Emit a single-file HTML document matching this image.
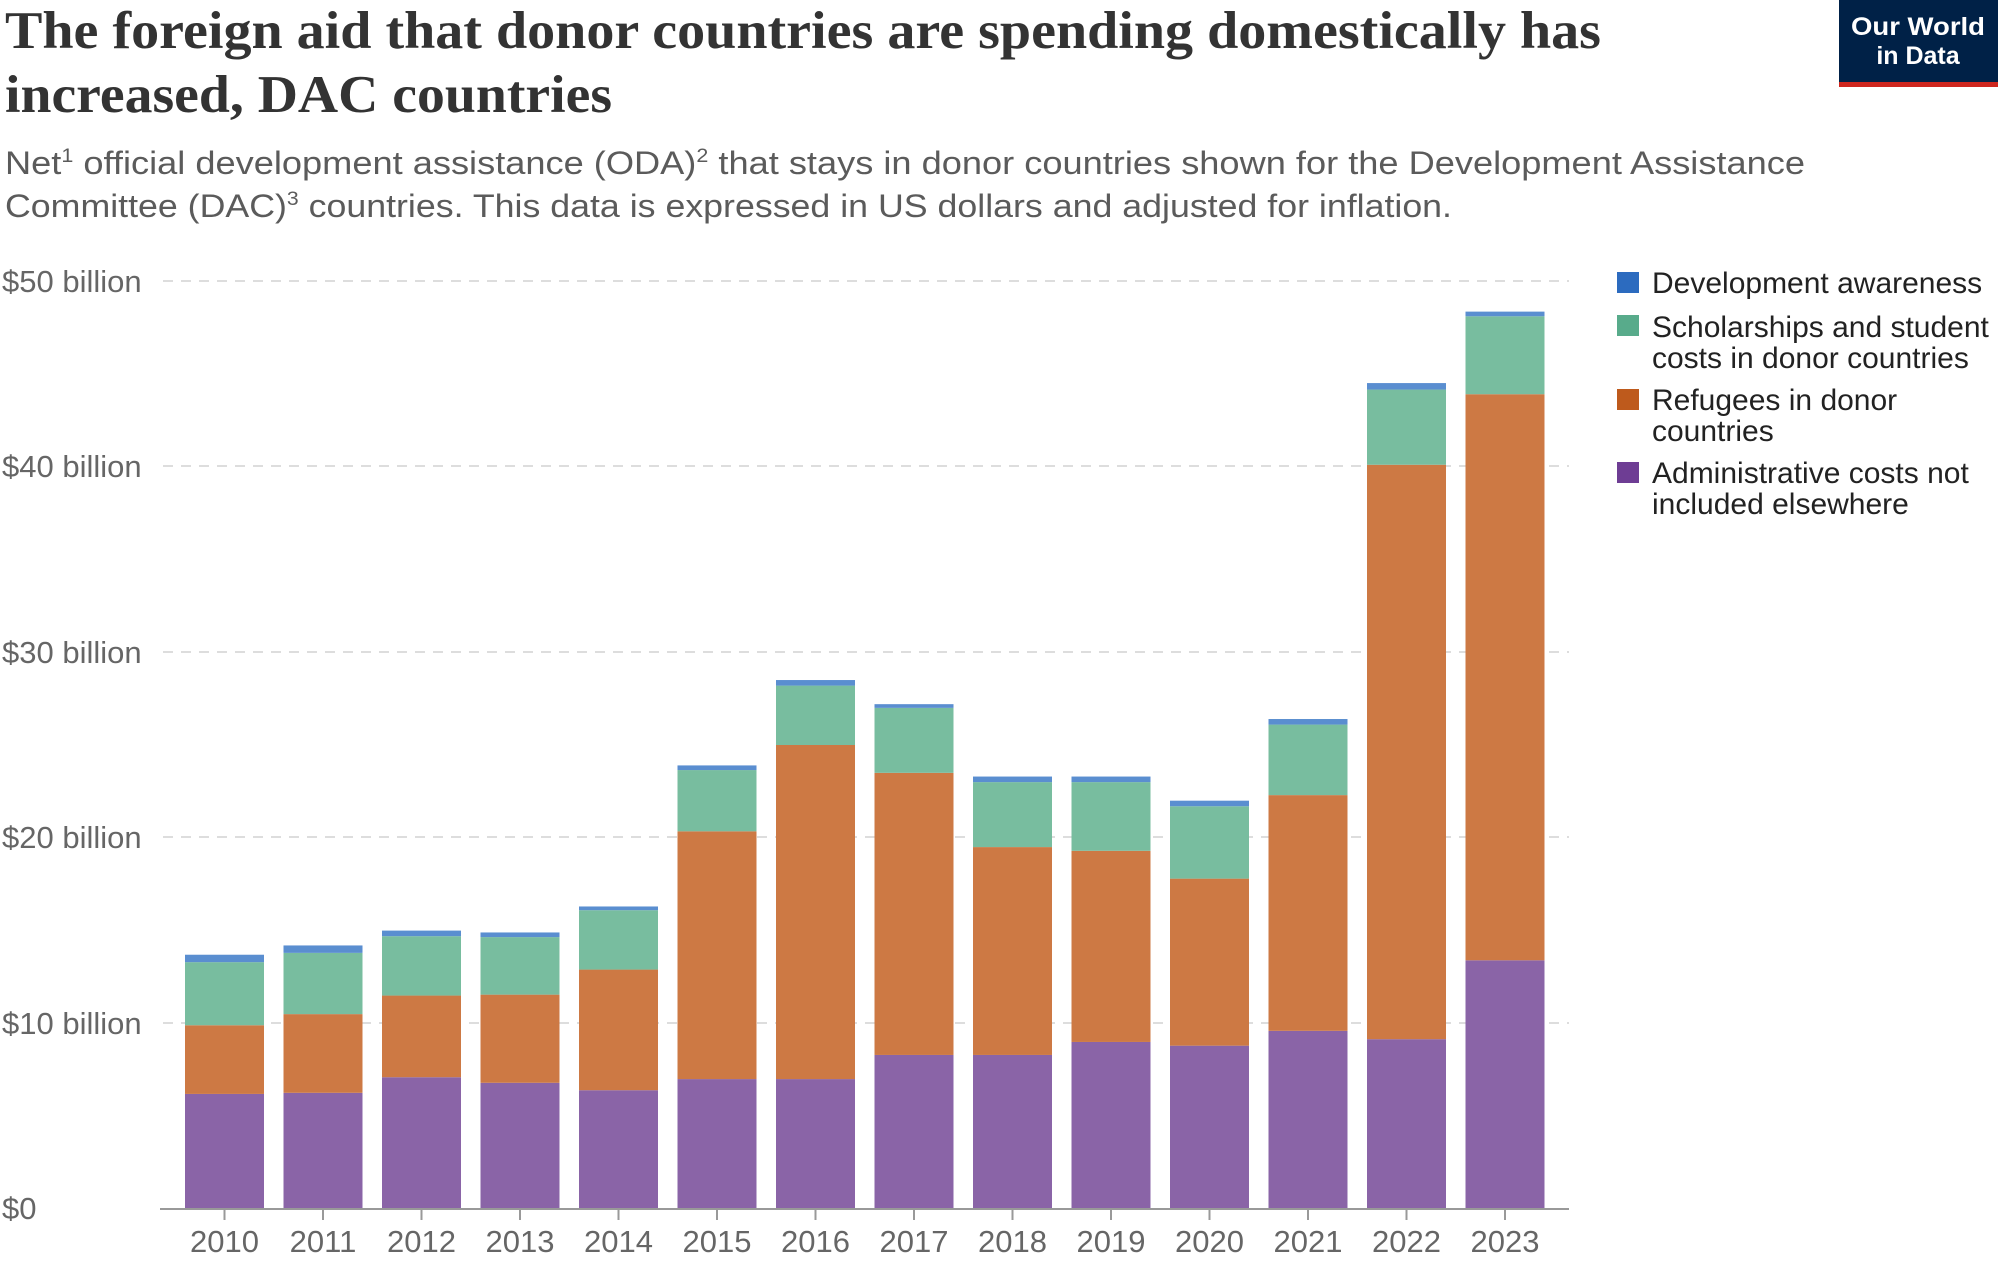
<!DOCTYPE html>
<html><head><meta charset="utf-8"><style>
html,body{margin:0;padding:0;background:#fff;}
svg{display:block;}
</style></head><body>
<svg width="2000" height="1263" viewBox="0 0 2000 1263" xmlns="http://www.w3.org/2000/svg">
<text x="5" y="48" font-family="Liberation Serif, serif" font-weight="bold" font-size="53" fill="#333" textLength="1596" lengthAdjust="spacingAndGlyphs">The foreign aid that donor countries are spending domestically has</text>
<text x="5" y="112" font-family="Liberation Serif, serif" font-weight="bold" font-size="53" fill="#333" textLength="607" lengthAdjust="spacingAndGlyphs">increased, DAC countries</text>
<text x="5" y="174" font-family="Liberation Sans, sans-serif" font-size="32" fill="#5b5b5b" textLength="1800" lengthAdjust="spacingAndGlyphs">Net<tspan font-size="19" dy="-12">1</tspan><tspan dy="12"> official development assistance (ODA)</tspan><tspan font-size="19" dy="-12">2</tspan><tspan dy="12"> that stays in donor countries shown for the Development Assistance</tspan></text>
<text x="5" y="217" font-family="Liberation Sans, sans-serif" font-size="32" fill="#5b5b5b" textLength="1447" lengthAdjust="spacingAndGlyphs">Committee (DAC)<tspan font-size="19" dy="-12">3</tspan><tspan dy="12"> countries. This data is expressed in US dollars and adjusted for inflation.</tspan></text>
<rect x="1839" y="0" width="159" height="82" fill="#002147"/>
<rect x="1839" y="82" width="159" height="5" fill="#ce261e"/>
<text x="1918" y="35" text-anchor="middle" font-family="Liberation Sans, sans-serif" font-weight="bold" font-size="25" fill="#fff" textLength="134" lengthAdjust="spacingAndGlyphs">Our World</text>
<text x="1918" y="64" text-anchor="middle" font-family="Liberation Sans, sans-serif" font-weight="bold" font-size="25" fill="#fff">in Data</text>
<g font-family="Liberation Sans, sans-serif" font-size="31" fill="#666">
<text x="2" y="292">$50 billion</text>
<text x="2" y="477">$40 billion</text>
<text x="2" y="663">$30 billion</text>
<text x="2" y="848">$20 billion</text>
<text x="2" y="1034">$10 billion</text>
<text x="2" y="1219">$0</text>
</g>
<g stroke="#ddd" stroke-width="2" stroke-dasharray="10,8">
<line x1="163" x2="1569" y1="281" y2="281"/>
<line x1="163" x2="1569" y1="466" y2="466"/>
<line x1="163" x2="1569" y1="652" y2="652"/>
<line x1="163" x2="1569" y1="837" y2="837"/>
<line x1="163" x2="1569" y1="1023" y2="1023"/>
</g>
<g id="bars"></g>
<line x1="160" x2="1569" y1="1209" y2="1209" stroke="#999" stroke-width="2"/>
<g id="ticks" stroke="#999" stroke-width="2"></g>
<g id="xl" font-family="Liberation Sans, sans-serif" font-size="31" fill="#666" text-anchor="middle"></g>
<g font-family="Liberation Sans, sans-serif" font-size="30" fill="#222">
<rect x="1617" y="272" width="22" height="21" fill="#2c6bbf"/>
<text x="1652" y="293">Development awareness</text>
<rect x="1617" y="315" width="22" height="21" fill="#58ab8b"/>
<text x="1652" y="337">Scholarships and student</text>
<text x="1652" y="368">costs in donor countries</text>
<rect x="1617" y="389" width="22" height="21" fill="#be5a1c"/>
<text x="1652" y="410">Refugees in donor</text>
<text x="1652" y="441">countries</text>
<rect x="1617" y="462" width="22" height="21" fill="#6e3d94"/>
<text x="1652" y="483">Administrative costs not</text>
<text x="1652" y="514">included elsewhere</text>
</g>
<script>
var d=[[6.2,9.9,13.3,13.7],[6.26,10.5,13.8,14.2],[7.1,11.5,14.7,15.0],[6.8,11.55,14.65,14.9],[6.4,12.9,16.1,16.3],[7.0,20.35,23.65,23.9],[7.0,25.0,28.2,28.5],[8.3,23.5,27.0,27.2],[8.3,19.5,23.0,23.3],[9.0,19.3,23.0,23.3],[8.8,17.8,21.7,22.0],[9.6,22.3,26.1,26.4],[9.15,40.1,44.15,44.5],[13.4,43.9,48.1,48.35]];
var c=["#8a64a7","#cd7944","#78bd9f","#5a8ed0"];
var ns="http://www.w3.org/2000/svg",b=document.getElementById("bars"),t=document.getElementById("ticks"),xl=document.getElementById("xl");
function Y(v){return 1209-v*18.56;}
d.forEach(function(r,i){var cx=224.5+i*98.5,x=cx-39.5,prev=0;
r.forEach(function(v,j){var e=document.createElementNS(ns,"rect");e.setAttribute("x",x);e.setAttribute("width",79);e.setAttribute("y",Y(v));e.setAttribute("height",Y(prev)-Y(v));e.setAttribute("fill",c[j]);b.appendChild(e);prev=v;});
var l=document.createElementNS(ns,"line");l.setAttribute("x1",cx);l.setAttribute("x2",cx);l.setAttribute("y1",1209);l.setAttribute("y2",1220);t.appendChild(l);
var tx=document.createElementNS(ns,"text");tx.setAttribute("x",cx);tx.setAttribute("y",1252);tx.textContent=2010+i;xl.appendChild(tx);});
</script>
</svg>
</body></html>
